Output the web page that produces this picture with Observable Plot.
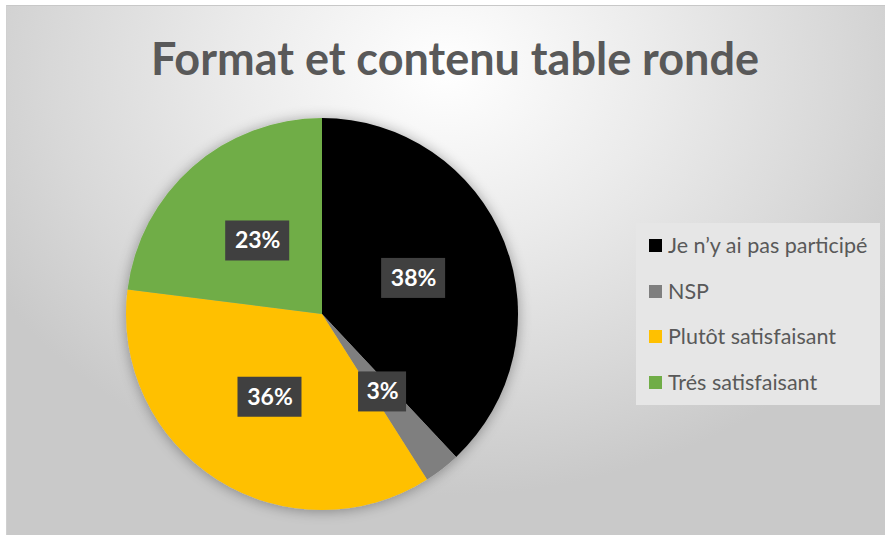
<!DOCTYPE html>
<html>
<head>
<meta charset="utf-8">
<script src="https://cdn.jsdelivr.net/npm/d3@7"></script>
<script src="https://cdn.jsdelivr.net/npm/@observablehq/plot@0.6"></script>
<style>
  html, body { margin: 0; padding: 0; background: #ffffff; }
  #wrap { position: relative; width: 888px; height: 535px; overflow: hidden; font-family: Lato, "Open Sans", sans-serif; }
  #frame { position: absolute; left: 6px; top: 5px; width: 878px; height: 532px;
    background: radial-gradient(ellipse 60% 80% at 50% 12%, #ffffff 0%, #ebebeb 40%, #d8d8d8 75%, #c9c9c9 100%);
    border-top: 1px solid #c8c8c8; border-left: 1px solid #d0d0d0; }
  #title { position: absolute; left: 0; width: 910px; top: 30px; text-align: center; font-weight: 700;
    font-size: 45px; color: #595959; line-height: 56px; }
  #legend { position: absolute; left: 636px; top: 223px; width: 244px; height: 182px; background: #e6e6e6; }
  .item { position: absolute; left: 13px; display: flex; align-items: center; font-size: 21.5px; color: #595959; line-height: 24px; }
  .sw { width: 13px; height: 13px; margin-right: 6px; }
  #chart { position: absolute; left: 0; top: 0; }
</style>
</head>
<body>
<div id="wrap">
  <div id="frame"></div>
  <div id="title"></div>
  <div id="chart"></div>
  <div id="legend"></div>
</div>
<script>
const title = "Format et contenu table ronde";
const categories = ["Je n’y ai pas participé", "NSP", "Plutôt satisfaisant", "Trés satisfaisant"];
const values = [38, 3, 36, 23];
const labels = ["38%", "3%", "36%", "23%"];
const colors = ["#000000", "#7f7f7f", "#ffc000", "#70ad47"];

document.getElementById("title").textContent = title;

const total = d3.sum(values);
let acc = 0;
const slices = values.map((v, i) => {
  const a0 = acc / total * 2 * Math.PI;
  acc += v;
  const a1 = acc / total * 2 * Math.PI;
  return {cat: categories[i], label: labels[i], color: colors[i], a0, a1};
});

const R = 196; // pixel radius
const labelPos = slices.map(s => {
  const m = (s.a0 + s.a1) / 2;
  const hw = (8 + 8 * s.label.length) / R;
  const hh = 20 / R;
  const x = 0.5 * Math.sin(m), y = 0.5 * Math.cos(m);
  return {label: s.label, x, y, x1: x - hw, x2: x + hw, y1: y - hh, y2: y + hh};
});

// Custom pie mark drawn through Plot's x/y scales
function pieMark(index, scales) {
  const {x, y} = scales;
  const r = x(1) - x(0);
  const arc = d3.arc().innerRadius(0).outerRadius(r);
  const g = d3.create("svg:g")
    .attr("aria-label", "pie")
    .attr("transform", `translate(${x(0)},${y(0)})`)
    .attr("filter", "url(#pieShadow)");
  g.selectAll("path").data(slices).join("path")
    .attr("d", d => arc({startAngle: d.a0, endAngle: d.a1}))
    .attr("fill", d => d.color);
  return g.node();
}

const cx = 322, cy = 314;
const plot = Plot.plot({
  width: 888,
  height: 535,
  marginLeft: cx - R,
  marginRight: 888 - (cx + R),
  marginTop: cy - R,
  marginBottom: 535 - (cy + R),
  x: {domain: [-1, 1], axis: null},
  y: {domain: [-1, 1], axis: null},
  style: {background: "transparent", overflow: "visible"},
  marks: [
    pieMark,
    Plot.rect(labelPos, {x1: "x1", x2: "x2", y1: "y1", y2: "y2", fill: "#404040", ariaLabel: "boxes"}),
    Plot.text(labelPos, {x: "x", y: "y", text: "label", fill: "white", fontSize: 23, fontWeight: "bold", fontFamily: "Lato, 'Open Sans', sans-serif", ariaLabel: "labels"})
  ]
});

const svg = d3.select(plot.tagName.toLowerCase() === "svg" ? plot : plot.querySelector("svg"));
const defs = svg.insert("defs", ":first-child");
const f1 = defs.append("filter").attr("id", "pieShadow").attr("x", "-20%").attr("y", "-20%").attr("width", "140%").attr("height", "140%");
f1.append("feGaussianBlur").attr("in", "SourceAlpha").attr("stdDeviation", 7).attr("result", "blur");
f1.append("feOffset").attr("in", "blur").attr("dx", 0).attr("dy", 1).attr("result", "off");
f1.append("feComponentTransfer").attr("in", "off").attr("result", "sh")
  .append("feFuncA").attr("type", "linear").attr("slope", 0.35);
const m1 = f1.append("feMerge");
m1.append("feMergeNode").attr("in", "sh");
m1.append("feMergeNode").attr("in", "SourceGraphic");

const f2 = defs.append("filter").attr("id", "boxShadow").attr("x", "-30%").attr("y", "-30%").attr("width", "160%").attr("height", "160%");
f2.append("feGaussianBlur").attr("in", "SourceAlpha").attr("stdDeviation", 2).attr("result", "blur");
f2.append("feOffset").attr("in", "blur").attr("dx", 2).attr("dy", 3).attr("result", "off");
f2.append("feComponentTransfer").attr("in", "off").attr("result", "sh")
  .append("feFuncA").attr("type", "linear").attr("slope", 0.4);
const m2 = f2.append("feMerge");
m2.append("feMergeNode").attr("in", "sh");
m2.append("feMergeNode").attr("in", "SourceGraphic");
svg.selectAll('g[aria-label="boxes"] rect').attr("filter", "url(#boxShadow)");

document.getElementById("chart").appendChild(plot);

const legend = document.getElementById("legend");
const rowTops = [10, 56, 101, 147];
categories.forEach((c, i) => {
  const it = document.createElement("div");
  it.className = "item";
  it.style.top = (rowTops[i]) + "px";
  const sw = document.createElement("div");
  sw.className = "sw";
  sw.style.background = colors[i];
  const t = document.createElement("span");
  t.textContent = c;
  it.appendChild(sw);
  it.appendChild(t);
  legend.appendChild(it);
});
</script>
</body>
</html>
